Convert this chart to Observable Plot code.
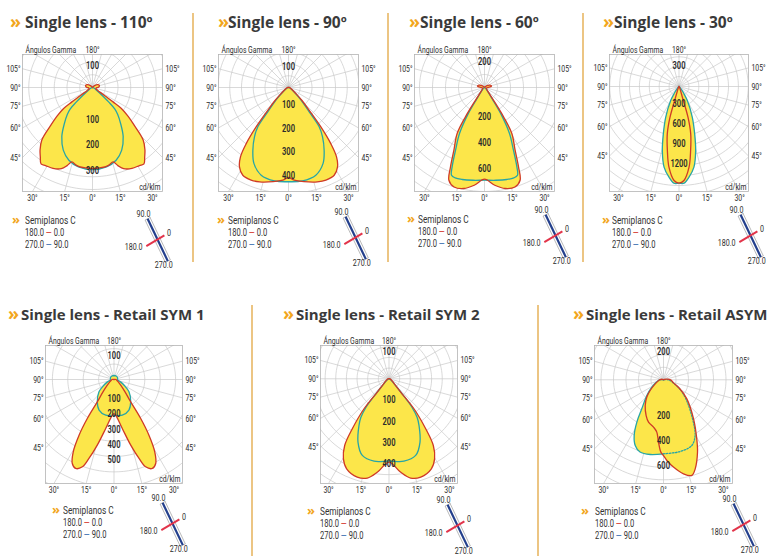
<!DOCTYPE html>
<html><head><meta charset="utf-8">
<script src="https://cdn.jsdelivr.net/npm/d3@7"></script>
<script src="https://cdn.jsdelivr.net/npm/@observablehq/plot@0.6"></script>
<style>
html,body{margin:0;padding:0;background:#fff;}
body{width:770px;height:556px;position:relative;overflow:hidden;font-family:Roboto,"Noto Sans",sans-serif;}
.ttl{position:absolute;font-family:"Open Sans",sans-serif;font-weight:700;font-size:15.5px;letter-spacing:0px;line-height:20px;color:#3a3a3a;white-space:nowrap;}
.chev{position:absolute;font-family:"Open Sans",sans-serif;font-weight:700;color:#f2a61c;white-space:nowrap;}
.sep{position:absolute;width:1.5px;background:#ecc583;}
.leg{position:absolute;font-size:10.5px;line-height:12.5px;color:#333;white-space:nowrap;transform:scaleX(0.72);transform-origin:0 50%;}
</style></head><body>
<script>
// ---------------- data ----------------
const titles = ["Single lens - 110º","Single lens - 90º","Single lens - 60º","Single lens - 30º",
  "Single lens - Retail SYM 1","Single lens - Retail SYM 2","Single lens - Retail ASYM"];
const sideAngles = [105, 90, 75, 60, 45];
const bottomAngles = [-30, -15, 0, 15, 30];
const radialAngles = d3.range(0, 360, 15);
const topLabel = "Ángulos Gamma";
const unitLabel = "cd/klm";
const legendTitle = "Semiplanos C";
const legendRows = [["180.0", "0.0"], ["270.0", "90.0"]];
const planeLabels = [{c: 0, label: "0"}, {c: 90, label: "90.0"}, {c: 180, label: "180.0"}, {c: 270, label: "270.0"}];

// ring labels (cd/klm)
const labels110 = [100, 200, 300];  const up110 = 100;
const labels90 = [100, 200, 300, 400]; const up90 = 100;
const labels60 = [200, 400, 600]; const up60 = 200;
const labels30 = [300, 600, 900, 1200]; const up30 = 300;
const labelsSym1 = [100, 200, 300, 400, 500]; const upSym1 = 100;
const labelsSym2 = [100, 200, 300, 400]; const upSym2 = 100;
const labelsAsym = [200, 400, 600]; const upAsym = 200;

// curves: [gamma (deg), intensity (cd/klm)]
const red110 = [[0,318],[5,316],[9,315],[12,311],[15.5,303],[18,322],[21,341],[26,353],[31,357],[34,361],[37,340],[40,320],[44,286],[48,218],[51,180],[54,140],[55,100],[56,62],[58,36],[60,25],[65,18],[70,14],[80,14],[90,20],[95,25],[100,27],[110,28],[120,22],[130,11],[140,4],[150,0],[180,0]];
const teal110 = [[0,322],[10,316],[18,300],[25,271],[32,227],[38,179],[43,145],[46,122],[48,86],[50,55],[53,31],[58,16],[70,6],[90,2],[180,0]];

const red90 = [[0,383],[3.5,395],[12,411],[17,420],[22,425],[27.5,421],[31.7,397],[34.7,359],[37,299],[39.4,217],[42.3,131],[46,81],[50.6,40],[60,17],[75,8],[90,4],[120,0],[180,0]];
const teal90 = [[0,401],[8.5,402],[17.3,391],[24.5,355],[29.6,307],[34.6,255],[38,212],[40.4,136],[45,77],[50,38],[60,13],[75,4],[90,0],[180,0]];

const red60 = [[0,705],[6,756],[11.6,793],[17,800],[21,764],[23.2,664],[26,537],[30.7,412],[33,269],[35.3,119],[40,46],[50,23],[70,15],[90,25],[100,54],[110,50],[120,31],[135,8],[150,0],[180,0]];
const teal60 = [[0,713],[7,719],[13.6,728],[18,731],[20.6,721],[22.2,659],[24.8,531],[28.5,403],[31.5,254],[34,108],[40,38],[50,15],[70,5],[90,0],[180,0]];

const red30 = [[0,1465],[3,1426],[7.1,1232],[10.3,985],[13.9,739],[16.3,485],[17.5,170],[20,76],[25,30],[40,10],[90,0],[180,0]];
const teal30 = [[0,1465],[3,1467],[6.3,1382],[10.5,1242],[14.6,1002],[18.3,756],[23.4,506],[30.7,247],[35,121],[40,45],[50,15],[90,0],[180,0]];

const redSym1 = [[0,221],[2.7,232],[9.6,323],[14.3,440],[17.6,538],[19.9,603],[23.3,629],[26.4,609],[29.4,539],[32.1,427],[34.4,307],[36.8,181],[42,104],[49.6,57],[60,32],[75,19],[90,13],[120,0],[180,0]];
const tealSym1 = [[0,232],[13,238],[26,221],[36.8,181],[50.6,126],[60,78],[70,45],[80,26],[90,23],[120,26],[150,26],[180,26]];

const redSym2 = [[0,391],[7,441],[12.3,477],[17.9,485],[25.2,467],[29.7,432],[33.6,376],[36.3,291],[39.8,183],[41.5,83],[45,42],[55,19],[70,9],[90,5],[120,0],[180,0]];
const tealSym2 = [[0,386],[10.3,393],[19.2,381],[26.1,331],[32.7,261],[36,225],[39,169],[41,94],[44,47],[50,23],[70,5],[90,0],[180,0]];

const redAsymC0 = [[0,606],[2.4,646],[6.5,703],[12,769],[16.5,798],[19.6,756],[25.2,639],[29.4,542],[37.6,394],[50.8,241],[62,144],[73,83],[85,64],[90,56],[100,32],[120,8],[150,0],[180,0]];
const redAsymC180 = [[0,606],[2.1,579],[4.6,500],[7.3,422],[11.9,387],[19.5,359],[25.9,318],[35.5,252],[44,192],[51.3,137],[64,74],[75,48],[90,32],[120,8],[150,0],[180,0]];
const tealAsymC90 = [[0,592],[13,589],[23.3,572],[29.6,512],[37,384],[50,232],[60,152],[73,80],[90,40],[120,0],[180,0]];
const tealAsymC270 = [[0,592],[10,607],[18,608],[23.3,572],[27.8,503],[32.2,400],[36.8,290],[46.8,183],[58,110],[70,64],[90,32],[120,0],[180,0]];

// ---------------- layout / style ----------------
const YELLOW = "#fce64a", RED = "#cf3a26", TEAL = "#27a5a6", GRID = "#c8c8c8";
const FONT = 'Roboto,"Noto Sans",sans-serif';
const CONDENSE = 0.72;

const panels = [
  {t:0, chevX:10, textX:25, titleY:22, tSize:15.5, fx:22, fy:54, w:140, h:137, cy:33, k:0.255, off:6.5, upR:22, ringStep:50, labels:labels110, up:up110, redL:red110, redR:red110, tealL:teal110, tealR:teal110, legChev:12, legX:25, legY:220, iconX:157, iconY:239},
  {t:1, chevX:218, textX:228, titleY:22, tSize:15.5, fx:218, fy:54, w:140, h:137, cy:33, k:0.235, off:-6, upR:21, ringStep:50, labels:labels90, up:up90, redL:red90, redR:red90, tealL:teal90, tealR:teal90, legChev:217, legX:228, legY:220, iconX:355, iconY:237},
  {t:2, chevX:409, textX:420, titleY:22, tSize:15.5, fx:414, fy:54, w:140, h:137, cy:33, k:0.13, off:2.8, upR:26, ringStep:100, labels:labels60, up:up60, redL:red60, redR:red60, tealL:teal60, tealR:teal60, legChev:407, legX:418, legY:219, iconX:555, iconY:235},
  {t:3, chevX:603, textX:614, titleY:22, tSize:15.5, fx:609, fy:54, w:139, h:137, cy:32, k:0.066, off:-2.5, upR:21, ringStep:150, labels:labels30, up:up30, redL:red30, redR:red30, tealL:teal30, tealR:teal30, legChev:602, legX:612, legY:220, iconX:750, iconY:235},
  {t:4, chevX:8, textX:21, titleY:314, tSize:15, fx:45, fy:345, w:137, h:138, cy:34, k:0.154, off:3.6, upR:24.3, ringStep:100, labels:labelsSym1, up:upSym1, redL:redSym1, redR:redSym1, tealL:tealSym1, tealR:tealSym1, legChev:52, legX:63, legY:510, iconX:172, iconY:523},
  {t:5, chevX:283, textX:296, titleY:314, tSize:15, fx:320, fy:345, w:137, h:138, cy:33.3, k:0.213, off:0, upR:26.7, ringStep:50, labels:labelsSym2, up:upSym2, redL:redSym2, redR:redSym2, tealL:tealSym2, tealR:tealSym2, legChev:307, legX:320, legY:511, iconX:457, iconY:525},
  {t:6, chevX:573, textX:586, titleY:314, tSize:15, fx:594, fy:345, w:138, h:138, cy:34.3, k:0.125, off:10.7, upR:27.7, ringStep:100, labels:labelsAsym, up:upAsym, redL:redAsymC180, redR:redAsymC0, tealL:tealAsymC270, tealR:tealAsymC90, tealDashRight:true, legChev:581, legX:595, legY:511, iconX:743, iconY:524}
];
const separators = [{x:192, y1:13, y2:262}, {x:387, y1:13, y2:262}, {x:582, y1:13, y2:262}, {x:251, y1:305, y2:556}, {x:537, y1:305, y2:556}];

// ---------------- helpers ----------------
const rad = Math.PI / 180;
const polar = (g, v, side) => ({x: side * v * Math.sin(g * rad), y: -v * Math.cos(g * rad)});
function loop(left, right) {
  const L = left.slice().reverse().map(([g, v]) => polar(g, v, -1));
  const R = right.slice(1).map(([g, v]) => polar(g, v, 1));
  return L.concat(R);
}
function half(arr, side) { return arr.map(([g, v]) => polar(g, v, side)); }

function place(el, style) { el.style.position = "absolute"; Object.assign(el.style, style || {}); document.body.appendChild(el); return el; }
function div(html, cls, style) { const d = document.createElement("div"); d.className = cls; d.innerHTML = html; return place(d, style); }
function condense(svg, s) {
  svg.querySelectorAll("text").forEach(t => {
    const tr = t.getAttribute("transform");
    if (tr) t.setAttribute("transform", tr + ` scale(${s},1)`);
    else if (t.getAttribute("x") != null) { const x = +t.getAttribute("x"); t.setAttribute("transform", `translate(${x},0) scale(${s},1) translate(${-x},0)`); }
  });
}

function polarPlot(p) {
  const k = p.k, W = p.w, H = p.h;
  const X = W / 2 / k, Ytop = p.cy / k, Ybot = (H - p.cy) / k;
  const mL = 28, mR = 28, mT = 16, mB = 16;
  const maxR = Math.hypot(X, Ybot) * 1.08;
  const rings = d3.range(p.ringStep, maxR, p.ringStep);
  const ringPts = rings.flatMap(r => d3.range(0, 361, 3).map(a => ({r, x: r * Math.sin(a * rad), y: r * Math.cos(a * rad)})));
  const redPts = loop(p.redL, p.redR);
  const tealPts = loop(p.tealL, p.tealR);
  const curve = "catmull-rom";
  const txt = {fill: "#2b2b2b", fontSize: 9.5};
  const tealMarks = p.tealDashRight
    ? [Plot.line(half(p.tealL, -1), {x: "x", y: "y", stroke: TEAL, strokeWidth: 1.3, curve, clip: true}),
       Plot.line(half(p.tealR, 1), {x: "x", y: "y", stroke: TEAL, strokeWidth: 1.3, strokeDasharray: "1.5,1.5", curve, clip: true})]
    : [Plot.line(tealPts, {x: "x", y: "y", stroke: TEAL, strokeWidth: 1.3, curve, clip: true})];
  const svg = Plot.plot({
    width: W + mL + mR, height: H + mT + mB,
    marginLeft: mL, marginRight: mR, marginTop: mT, marginBottom: mB,
    x: {domain: [-X, X], axis: null},
    y: {domain: [-Ybot, Ytop], axis: null},
    style: {fontFamily: FONT, fontSize: "9.5px", background: "transparent", overflow: "visible"},
    marks: [
      Plot.line(ringPts, {x: "x", y: "y", z: "r", stroke: GRID, strokeWidth: 0.7, clip: true}),
      Plot.link(radialAngles, {x1: () => 0, y1: () => 0, x2: a => maxR * Math.sin(a * rad), y2: a => maxR * Math.cos(a * rad), stroke: GRID, strokeWidth: 0.7, clip: true}),
      Plot.line(redPts, {x: "x", y: "y", fill: YELLOW, stroke: "none", curve, clip: true}),
      Plot.line(tealPts, {x: "x", y: "y", fill: YELLOW, stroke: "none", curve, clip: true}),
      ...tealMarks,
      Plot.line(redPts, {x: "x", y: "y", stroke: RED, strokeWidth: 1.3, curve, clip: true}),
      Plot.frame({stroke: "#b3b3b3", strokeWidth: 0.8}),
      Plot.text(p.labels, {x: () => 0, y: v => -(v + p.off / k), text: v => String(v), ...txt, fontSize: 10.5, fontWeight: 600}),
      Plot.text([p.up], {x: () => 0, y: () => p.upR / k, text: v => String(v), ...txt, fontSize: 10.5, fontWeight: 600}),
      Plot.text(sideAngles, {x: () => -X, y: g => -X * Math.cos(g * rad) / Math.sin(g * rad), text: g => g + "°", textAnchor: "end", dx: -2, ...txt}),
      Plot.text(sideAngles, {x: () => X, y: g => -X * Math.cos(g * rad) / Math.sin(g * rad), text: g => g + "°", textAnchor: "start", dx: 3, ...txt}),
      Plot.text(bottomAngles, {x: g => Ybot * Math.tan(g * rad), y: () => -Ybot, text: g => Math.abs(g) + "°", lineAnchor: "top", dy: 2.5, ...txt}),
      Plot.text([topLabel], {x: () => -X, y: () => Ytop, text: d => d, textAnchor: "start", lineAnchor: "bottom", dx: 3, dy: -1.5, ...txt}),
      Plot.text(["180°"], {x: () => 0, y: () => Ytop, text: d => d, lineAnchor: "bottom", dy: -2, ...txt}),
      Plot.text([unitLabel], {x: () => X, y: () => -Ybot, text: d => d, textAnchor: "end", lineAnchor: "bottom", dx: -2, dy: -2, ...txt})
    ]
  });
  condense(svg, CONDENSE);
  place(svg, {left: (p.fx - mL) + "px", top: (p.fy - mT) + "px"});
}

// C-plane orientation glyph
const planeDir = {0: [0.86, 0.51], 90: [-0.43, 0.9], 180: [-0.86, -0.51], 270: [0.43, -0.9]};
const planeLen = {0: 8, 90: 23, 180: 13, 270: 24};
const planeLab = {0: {d: 11, a: "start", dx: 0, dy: -1}, 90: {d: 28, a: "middle", dx: -2, dy: 0}, 180: {d: 15, a: "end", dx: -2, dy: 0}, 270: {d: 26, a: "end", dx: 4, dy: 2}};
function iconPlot(p) {
  const end = c => [planeDir[c][0] * planeLen[c], planeDir[c][1] * planeLen[c]];
  const perp = [0.9, 0.43];
  const a = end(90), b = end(270), e = 2.8;
  const box = [[a[0] + perp[0] * e, a[1] + perp[1] * e], [b[0] + perp[0] * e, b[1] + perp[1] * e], [b[0] - perp[0] * e, b[1] - perp[1] * e], [a[0] - perp[0] * e, a[1] - perp[1] * e], [a[0] + perp[0] * e, a[1] + perp[1] * e]];
  const svg = Plot.plot({
    width: 80, height: 80, margin: 0,
    x: {domain: [-40, 40], axis: null}, y: {domain: [-40, 40], axis: null},
    style: {fontFamily: FONT, fontSize: "9.5px", background: "transparent", overflow: "visible"},
    marks: [
      Plot.line(box, {x: d => d[0], y: d => d[1], stroke: "#8c8c8c", strokeWidth: 0.6}),
      Plot.link([[90, 270]], {x1: d => end(d[0])[0], y1: d => end(d[0])[1], x2: d => end(d[1])[0], y2: d => end(d[1])[1], stroke: "#233f8c", strokeWidth: 2.2}),
      Plot.link([[180, 0]], {x1: d => end(d[0])[0], y1: d => end(d[0])[1], x2: d => end(d[1])[0], y2: d => end(d[1])[1], stroke: "#e2344a", strokeWidth: 2}),
      ...planeLabels.map(pl => Plot.text([pl], {x: d => planeDir[d.c][0] * planeLab[d.c].d, y: d => planeDir[d.c][1] * planeLab[d.c].d, text: "label", textAnchor: planeLab[pl.c].a, dx: planeLab[pl.c].dx, dy: planeLab[pl.c].dy, fill: "#2b2b2b", fontSize: 9.5}))
    ]
  });
  condense(svg, 0.75);
  place(svg, {left: (p.iconX - 40) + "px", top: (p.iconY - 40) + "px"});
}

// ---------------- render ----------------
separators.forEach(s => div("", "sep", {left: s.x + "px", top: s.y1 + "px", height: (s.y2 - s.y1) + "px"}));
panels.forEach(p => {
  div("»", "chev", {left: p.chevX + "px", top: (p.titleY - 12) + "px", fontSize: "18px", lineHeight: "22px"});
  div(titles[p.t], "ttl", {left: p.textX + "px", top: (p.titleY - 10) + "px", fontSize: p.tSize + "px"});
  polarPlot(p);
  div("»", "chev", {left: p.legChev + "px", top: (p.legY - 8) + "px", fontSize: "13px", lineHeight: "15px"});
  div(legendTitle, "leg", {left: p.legX + "px", top: (p.legY - 6) + "px", fontSize: "11.5px"});
  legendRows.forEach((r, i) => {
    const col = i === 0 ? "#d4372c" : "#3b6eb0";
    div(`${r[0]} <span style="color:${col}">—</span> ${r[1]}`, "leg", {left: p.legX + "px", top: (p.legY - 6 + 12.5 * (i + 1)) + "px"});
  });
  iconPlot(p);
});
</script>
</body></html>
